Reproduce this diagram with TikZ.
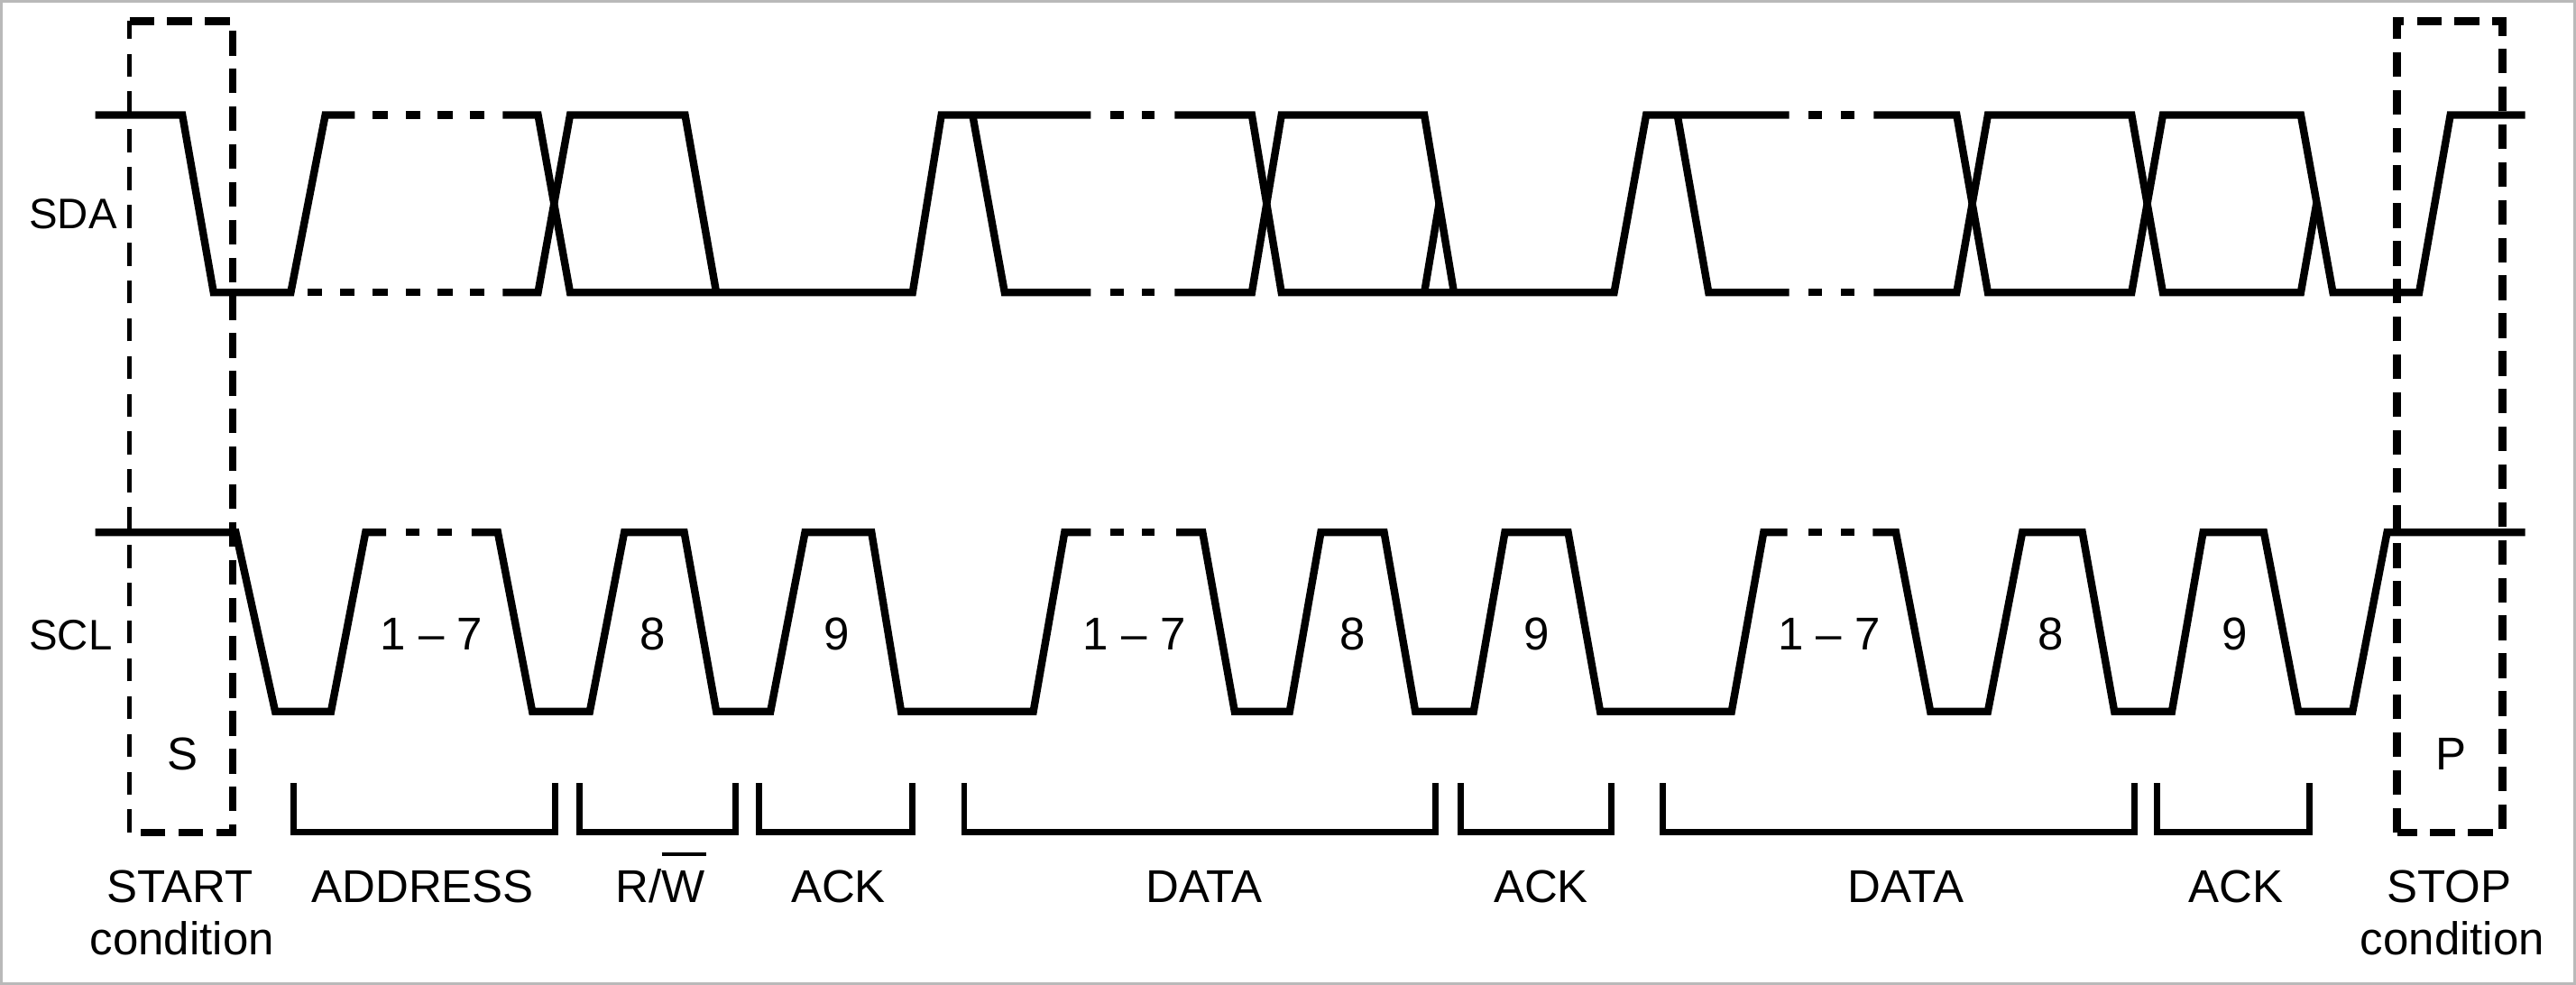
\documentclass[tikz,border=0pt]{standalone}
\usepackage{fontspec}
\setmainfont{Liberation Sans}
\newcommand{\olW}{\leavevmode\rlap{\rule[1.0em]{0.97em}{1.2pt}}W}
\begin{document}
\begin{tikzpicture}[x=0.5pt,y=-0.5pt,
  wave/.style={line width=2.3pt, line join=miter},
  brk/.style={line width=1.9pt},
  boxline/.style={line width=2.3pt, dash pattern=on 7.5pt off 4pt},
  thinbox/.style={line width=1.3pt, dash pattern=on 7pt off 4.5pt},
  lbl/.style={font=\fontsize{14}{16}\selectfont, inner sep=0pt},
  sig/.style={font=\fontsize{13}{15}\selectfont, inner sep=0pt}]
\useasboundingbox (0,0) rectangle (1568,599.5);
\draw[gray!55, line width=0.8pt] (0.8,0.8) rectangle (1567.2,598.7);

\def\sdaH{70}\def\sdaL{178}
\def\sclH{324}\def\sclL{433}

% ---------- SDA ----------
\draw[wave] (58,\sdaH) -- (111,\sdaH) -- (130,\sdaL) -- (177,\sdaL) -- (198,\sdaH) -- (216,\sdaH);
\foreach \a in {227,247,266.5,286} \draw[wave] (\a,\sdaH) -- ++(9,0);
\foreach \a in {187,207,227,247,266.5,286} \draw[wave] (\a,\sdaL) -- ++(9,0);
\draw[wave] (306,\sdaH) -- (327.5,\sdaH) -- (347,\sdaL) -- (555.5,\sdaL) -- (573,\sdaH) -- (664,\sdaH);
\draw[wave] (306,\sdaL) -- (327.5,\sdaL) -- (347,\sdaH) -- (417,\sdaH) -- (436,\sdaL);
\draw[wave] (592,\sdaH) -- (611.5,\sdaL) -- (664,\sdaL);
\foreach \a in {676,695} {\draw[wave] (\a,\sdaH) -- ++(8,0); \draw[wave] (\a,\sdaL) -- ++(8,0);}
\draw[wave] (715,\sdaH) -- (762,\sdaH) -- (780,\sdaL) -- (982.5,\sdaL) -- (1002,\sdaH) -- (1089,\sdaH);
\draw[wave] (715,\sdaL) -- (762,\sdaL) -- (780,\sdaH) -- (867,\sdaH) -- (885,\sdaL);
\draw[wave] (867,\sdaL) -- (876,124);
\draw[wave] (1021,\sdaH) -- (1040,\sdaL) -- (1089,\sdaL);
\foreach \a in {1101,1120.5} {\draw[wave] (\a,\sdaH) -- ++(8,0); \draw[wave] (\a,\sdaL) -- ++(8,0);}
\draw[wave] (1140.5,\sdaH) -- (1191,\sdaH) -- (1210,\sdaL) -- (1297.5,\sdaL) -- (1316.5,\sdaH) -- (1400.5,\sdaH) -- (1420,\sdaL) -- (1472.5,\sdaL) -- (1491.5,\sdaH) -- (1537,\sdaH);
\draw[wave] (1140.5,\sdaL) -- (1191,\sdaL) -- (1210,\sdaH) -- (1297.5,\sdaH) -- (1316.5,\sdaL) -- (1400.5,\sdaL) -- (1410,124);

% ---------- SCL ----------
\draw[wave] (58,\sclH) -- (143.5,\sclH) -- (167.5,\sclL) -- (201.5,\sclL) -- (222.5,\sclH) -- (235,\sclH);
\foreach \a in {247,266.5} \draw[wave] (\a,\sclH) -- ++(8.5,0);
\draw[wave] (287,\sclH) -- (303,\sclH) -- (324,\sclL) -- (359,\sclL) -- (380,\sclH) -- (416.5,\sclH) -- (436,\sclL) -- (469,\sclL) -- (490,\sclH) -- (530.5,\sclH) -- (548.5,\sclL) -- (629,\sclL) -- (648,\sclH) -- (664,\sclH);
\foreach \a in {676,695} \draw[wave] (\a,\sclH) -- ++(8,0);
\draw[wave] (716,\sclH) -- (732,\sclH) -- (751.5,\sclL) -- (785,\sclL) -- (804,\sclH) -- (842.5,\sclH) -- (861.5,\sclL) -- (897,\sclL) -- (916,\sclH) -- (954.5,\sclH) -- (974,\sclL) -- (1054,\sclL) -- (1073.5,\sclH) -- (1088,\sclH);
\foreach \a in {1101,1120.5} \draw[wave] (\a,\sclH) -- ++(8,0);
\draw[wave] (1140,\sclH) -- (1154,\sclH) -- (1175,\sclL) -- (1210,\sclL) -- (1231,\sclH) -- (1267.5,\sclH) -- (1287,\sclL) -- (1322,\sclL) -- (1341,\sclH) -- (1378,\sclH) -- (1399,\sclL) -- (1432,\sclL) -- (1453,\sclH) -- (1537,\sclH);

% ---------- START / STOP boxes ----------
\draw[thinbox] (78.8,506.7) -- (78.8,12.8);
\draw[boxline] (78.8,12.8) -- (141.8,12.8) -- (141.8,506.7) -- (78.8,506.7);
\draw[boxline] (1459,506.7) -- (1459,12.8) -- (1523.2,12.8) -- (1523.2,506.7) -- cycle;

% ---------- brackets ----------
\foreach \p/\q in {178.6/337.9, 352.9/447.5, 462.2/555.4, 586.9/874, 889/980.8, 1012.3/1299.1, 1313.1/1405.9}
  \draw[brk] (\p,476.6) |- (\q,506.7) -- (\q,476.6);

% ---------- labels ----------
\node[sig] (sda) at (44.5,130) {SDA};
\node[sig] (scl) at (43,386.4) {SCL};
\node[lbl] (n17a) at (262.6,386) {1 – 7};
\node[lbl] (n8a) at (397.4,386) {8};
\node[lbl] (n9a) at (509.5,386) {9};
\node[lbl] (n17b) at (690.5,386) {1 – 7};
\node[lbl] (n8b) at (823.2,386) {8};
\node[lbl] (n9b) at (935.3,386) {9};
\node[lbl] (n17c) at (1113.5,386) {1 – 7};
\node[lbl] (n8c) at (1248.3,386) {8};
\node[lbl] (n9c) at (1360.4,386) {9};
\node[lbl] (s) at (111.3,459) {S};
\node[lbl] (p) at (1491.7,459) {P};
\node[lbl,anchor=base] (start) at (109.4,549.2) {START};
\node[lbl,anchor=base] (cond1) at (110.8,581.3) {condition};
\node[lbl,anchor=base] (addr) at (257.3,549.2) {ADDRESS};
\node[lbl,anchor=base] (rw) at (402,549.2) {R/\olW};
\node[lbl,anchor=base] (ack1) at (510.3,549.2) {ACK};
\node[lbl,anchor=base] (data1) at (733,549.2) {DATA};
\node[lbl,anchor=base] (ack2) at (938,549.2) {ACK};
\node[lbl,anchor=base] (data2) at (1160,549.2) {DATA};
\node[lbl,anchor=base] (ack3) at (1361,549.2) {ACK};
\node[lbl,anchor=base] (stop) at (1490.8,549.2) {STOP};
\node[lbl,anchor=base] (cond2) at (1492.7,581.3) {condition};
\end{tikzpicture}
\end{document}
